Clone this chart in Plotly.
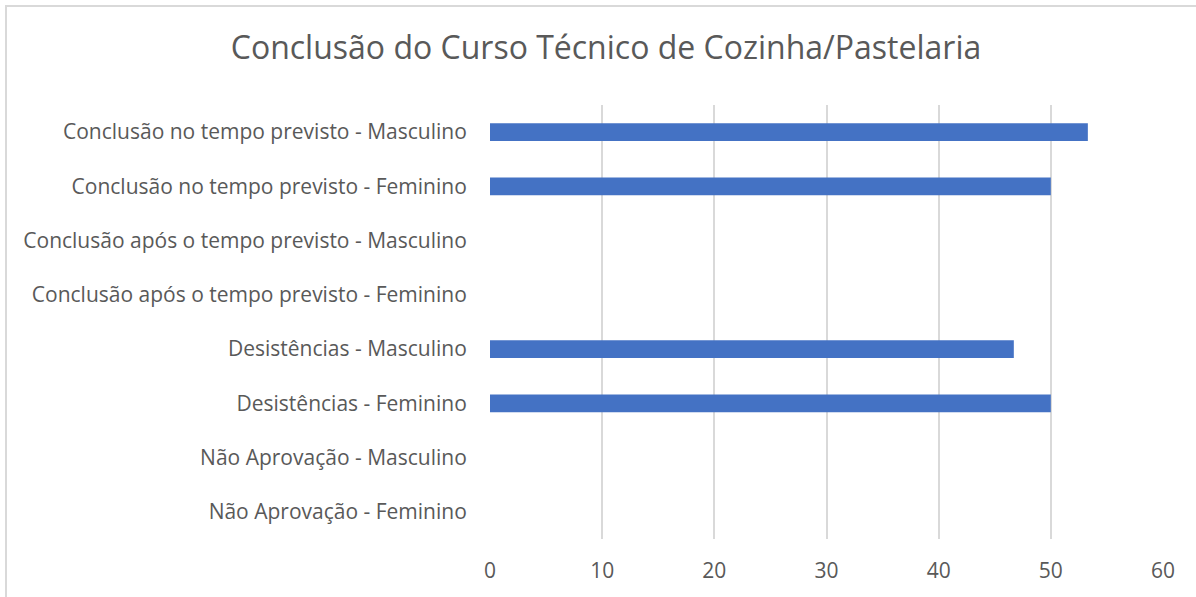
import plotly.graph_objects as go

categories = [
    "Conclusão no tempo previsto - Masculino",
    "Conclusão no tempo previsto - Feminino",
    "Conclusão após o tempo previsto - Masculino",
    "Conclusão após o tempo previsto - Feminino",
    "Desistências - Masculino",
    "Desistências - Feminino",
    "Não Aprovação - Masculino",
    "Não Aprovação - Feminino",
]
values = [53.3, 50, 0, 0, 46.7, 50, 0, 0]
x_ticks = [0, 10, 20, 30, 40, 50, 60]

font_family = "Open Sans, Noto Sans, sans-serif"
text_color = "#595959"

W, H = 1196, 597
L, R, T, B = 490, 33, 105, 58
pw, ph = W - L - R, H - T - B

fig = go.Figure(
    go.Bar(
        y=categories,
        x=values,
        orientation="h",
        marker=dict(color="#4472C4", line=dict(width=0)),
        width=0.33,
    )
)

fig.update_layout(
    width=W,
    height=H,
    margin=dict(l=L, r=R, t=T, b=B),
    paper_bgcolor="white",
    plot_bgcolor="white",
    title=dict(
        text="Conclusão do Curso Técnico de Cozinha/Pastelaria",
        x=606 / W,
        xanchor="center",
        y=1 - 48 / H,
        yanchor="middle",
        font=dict(family=font_family, size=32, color=text_color),
    ),
    font=dict(family=font_family, size=20, color=text_color),
    showlegend=False,
    xaxis=dict(
        range=[0, 60],
        tickvals=x_ticks,
        showgrid=True,
        gridcolor="#D9D9D9",
        gridwidth=2,
        zeroline=False,
        showline=False,
        ticks="outside",
        ticklen=13,
        tickcolor="rgba(0,0,0,0)",
        tickfont=dict(size=21, color=text_color),
        fixedrange=True,
    ),
    yaxis=dict(
        categoryorder="array",
        categoryarray=categories[::-1],
        showgrid=False,
        zeroline=False,
        showline=False,
        ticks="outside",
        ticklen=18,
        tickcolor="rgba(0,0,0,0)",
        tickfont=dict(size=21, color=text_color),
        fixedrange=True,
    ),
    shapes=[
        dict(
            type="rect",
            xref="paper",
            yref="paper",
            x0=(6 - L) / pw,
            x1=1.2,
            y0=-0.5,
            y1=1 + (T - 6) / ph,
            line=dict(color="#D9D9D9", width=2),
            fillcolor="rgba(0,0,0,0)",
            layer="below",
        )
    ],
)

fig.write_html(
    "out.html",
    config={"displayModeBar": False},
    post_script="document.body.style.margin='0px';",
)
